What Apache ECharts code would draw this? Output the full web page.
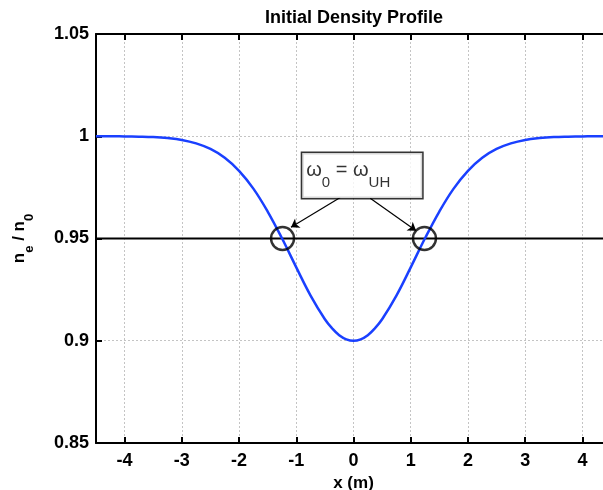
<!DOCTYPE html>
<html>
<head>
<meta charset="utf-8">
<script src="https://cdn.jsdelivr.net/npm/echarts@6/dist/echarts.min.js"></script>
<style>
html,body{margin:0;padding:0;background:#fff;}
#c{width:603px;height:490px;}
</style>
</head>
<body>
<div id="c"></div>
<script>
// Data
var xValues = [-4.5,-4.25,-4,-3.75,-3.5,-3.25,-3,-2.75,-2.5,-2.25,-2,-1.75,-1.5,-1.25,-1,-0.75,-0.5,-0.375,-0.25,-0.125,0,
               0.125,0.25,0.375,0.5,0.75,1,1.25,1.5,1.75,2,2.25,2.5,2.75,3,3.25,3.5,3.75,4,4.25,4.5];
var densityValues = [1.0,1.0,0.9999,0.9998,0.9996,0.9991,0.9982,0.9965,0.9938,0.9895,0.9831,0.9744,0.9632,0.9501,0.9359,0.9221,0.9105,0.9061,0.9027,0.9007,0.9,
                     0.9007,0.9027,0.9061,0.9105,0.9221,0.9359,0.9501,0.9632,0.9744,0.9831,0.9895,0.9938,0.9965,0.9982,0.9991,0.9996,0.9998,0.9999,1.0,1.0];
var resonanceLevel = [0.95];
var crossingX = [-1.24, 1.24];
var xTicks = [-4,-3,-2,-1,0,1,2,3,4];
var xRange = [-4.5, 4.5];
var yRange = [0.85, 1.05];

// annotation anchors (data units)
var boxAnchor = [0.152, 0.9808];
var arrowLeft = [[-0.232, 0.9701], [-1.093, 0.9555]];
var arrowRight = [[0.292, 0.9697], [1.095, 0.9538]];

var FONT = "'Liberation Sans', Arial, Helvetica, sans-serif";
var chart = echarts.init(document.getElementById('c'), null, {renderer: 'canvas'});

var curve = xValues.map(function (x, i) { return [x, densityValues[i]]; });
var hline = [[xRange[0], resonanceLevel[0]], [xRange[1], resonanceLevel[0]]];
var circles = crossingX.map(function (x) { return [x, resonanceLevel[0]]; });

var option = {
  animation: false,
  backgroundColor: '#ffffff',
  title: {
    text: 'Initial Density Profile',
    left: 260, top: 4,
    textStyle: {fontFamily: FONT, fontSize: 18, fontWeight: 'bold', color: '#000'}
  },
  grid: {left: 96, top: 34, width: 515, height: 409, containLabel: false, outerBoundsMode: 'none'},
  xAxis: [{
    type: 'value', min: xRange[0], max: xRange[1], position: 'bottom',
    name: 'x (m)', nameLocation: 'middle', nameGap: 30,
    nameTextStyle: {fontFamily: FONT, fontSize: 17, fontWeight: 'bold', color: '#000'},
    axisLine: {show: true, onZero: false, lineStyle: {color: '#000', width: 2}},
    axisTick: {show: true, inside: true, length: 6, customValues: xTicks, lineStyle: {color: '#000', width: 2}},
    axisLabel: {customValues: xTicks, margin: 9, fontFamily: FONT, fontSize: 18, fontWeight: 'bold', color: '#000'},
    splitLine: {show: true, lineStyle: {color: '#c4c4c4', type: [2, 2], width: 1}}
  }, {
    type: 'value', min: xRange[0], max: xRange[1], position: 'top',
    axisLine: {show: true, onZero: false, lineStyle: {color: '#000', width: 2}},
    axisTick: {show: true, inside: true, length: 6, customValues: xTicks, lineStyle: {color: '#000', width: 2}},
    axisLabel: {show: false},
    splitLine: {show: false}
  }],
  yAxis: {
    type: 'value', min: yRange[0], max: yRange[1], interval: 0.05,
    name: '{b|n}{s|e}{b| / n}{s|0}', nameLocation: 'middle', nameGap: 60, nameRotate: 90,
    nameTextStyle: {
      rich: {
        b: {fontFamily: FONT, fontSize: 17, fontWeight: 'bold', color: '#000', lineHeight: 19, verticalAlign: 'top'},
        s: {fontFamily: FONT, fontSize: 13, fontWeight: 'bold', color: '#000', lineHeight: 25, verticalAlign: 'bottom'}
      }
    },
    axisLine: {show: true, onZero: false, lineStyle: {color: '#000', width: 2}},
    axisTick: {show: true, inside: true, length: 6, lineStyle: {color: '#000', width: 2}},
    axisLabel: {margin: 7, fontFamily: FONT, fontSize: 18, fontWeight: 'bold', color: '#000'},
    splitLine: {show: true, lineStyle: {color: '#c4c4c4', type: [2, 2], width: 1}}
  },
  series: [{
    type: 'line', data: curve, smooth: 0.4, showSymbol: false, symbol: 'none',
    lineStyle: {color: '#1a40ff', width: 2.5}, z: 3
  }, {
    type: 'line', data: hline, showSymbol: false, symbol: 'none',
    lineStyle: {color: '#000', width: 2}, z: 2
  }, {
    type: 'scatter', data: circles, symbol: 'circle', symbolSize: 23,
    itemStyle: {color: 'rgba(0,0,0,0)', borderColor: '#000', borderWidth: 2.4}, z: 5
  }, {
    type: 'scatter', data: [boxAnchor], symbolSize: 0, z: 6,
    label: {
      show: true, position: 'inside',
      formatter: '{w|ω}{s|0}{w| = ω}{s|UH}',
      backgroundColor: '#fff', borderColor: '#000', borderWidth: 1.5,
      width: 112, padding: [7, 4, 8, 4],
      rich: {
        w: {fontFamily: FONT, fontSize: 20, color: '#000', lineHeight: 22, verticalAlign: 'top', align: 'left'},
        s: {fontFamily: FONT, fontSize: 15, color: '#000', lineHeight: 30, verticalAlign: 'bottom', align: 'left'}
      }
    },
    markLine: {
      silent: true, symbol: ['none', 'arrow'], symbolSize: 8,
      label: {show: false},
      lineStyle: {color: '#000', width: 1.2, type: 'solid'},
      data: [
        [{coord: arrowLeft[0]}, {coord: arrowLeft[1]}],
        [{coord: arrowRight[0]}, {coord: arrowRight[1]}]
      ]
    }
  }]
};
chart.setOption(option);
</script>
</body>
</html>
